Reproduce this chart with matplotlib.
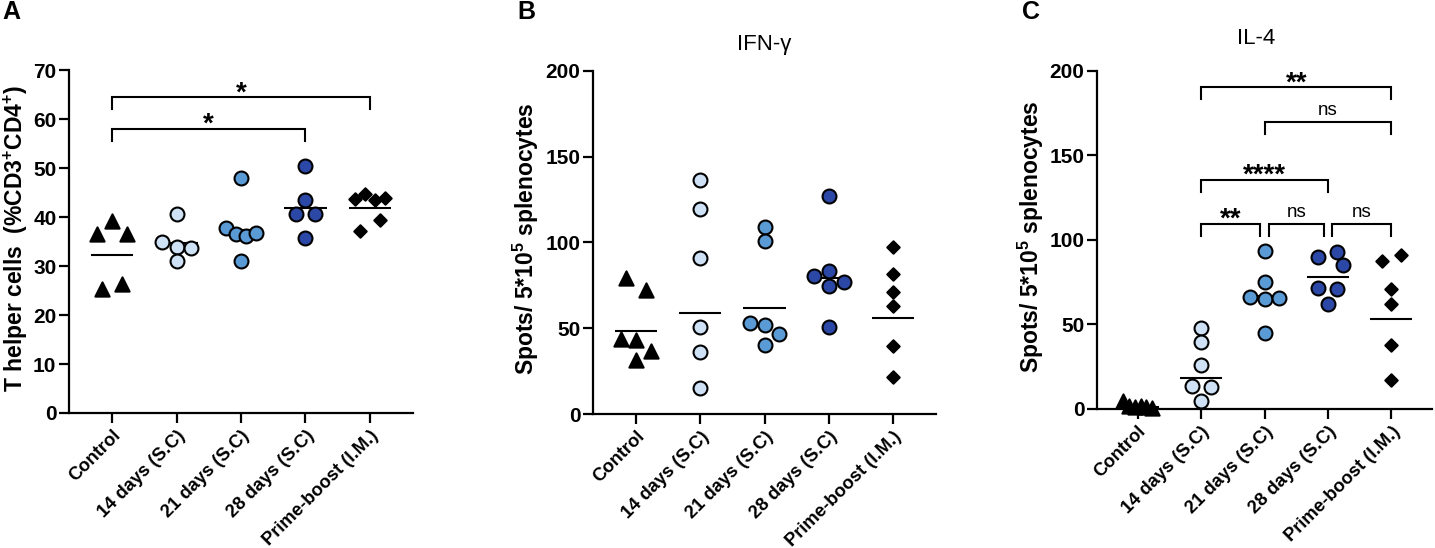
import numpy as np
import matplotlib
matplotlib.use('Agg')
import matplotlib.pyplot as plt

plt.rcParams['font.family'] = ['Liberation Sans', 'DejaVu Sans']
plt.rcParams['mathtext.fontset'] = 'custom'
plt.rcParams['mathtext.rm'] = 'Liberation Sans'
plt.rcParams['mathtext.bf'] = 'Liberation Sans:bold'

groups = ['Control', '14 days (S.C)', '21 days (S.C)', '28 days (S.C)', 'Prime-boost (I.M.)']

# A - T helper cells (%CD3+CD4+)
th_control = [36.6, 39.1, 36.6, 25.3, 26.3]
th_14d = [40.6, 35.0, 33.9, 33.6, 31.1]
th_21d = [47.9, 37.7, 36.5, 36.2, 36.7, 31.1]
th_28d = [50.5, 40.7, 43.4, 40.6, 35.8]
th_pb = [43.6, 44.7, 43.4, 43.8, 37.2, 39.4]

# B - IFN-gamma spots
ifn_control = [79.4, 72.2, 43.5, 43.1, 36.9, 31.5]
ifn_14d = [136.3, 119.2, 91.1, 50.5, 35.9, 15.3]
ifn_21d = [109.1, 101.0, 52.8, 51.7, 46.6, 40.2]
ifn_28d = [127.0, 80.6, 83.3, 77.1, 74.8, 50.9]
ifn_pb = [97.5, 81.6, 71.3, 62.9, 39.8, 21.7]

# C - IL-4 spots
il4_control = [4.5, 2.0, 1.0, 1.5, 1.0, 0.5]
il4_14d = [47.7, 39.8, 26.0, 13.6, 13.2, 4.7]
il4_21d = [93.6, 74.9, 66.4, 64.8, 65.4, 45.1]
il4_28d = [89.7, 93.0, 85.1, 71.3, 70.7, 62.1]
il4_pb = [87.7, 91.0, 70.7, 62.1, 37.8, 17.1]

# comparisons: (group1, group2, bracket height, label)
th_comparisons = [(0, 3, 57.9, '*'), (0, 4, 64.4, '*')]
il4_comparisons = [(1, 4, 190.1, '**'), (2, 4, 169.9, 'ns'), (1, 3, 135.4, '****'),
                   (1, 2, 109.4, '**'), (2, 3, 109.4, 'ns'), (3, 4, 109.4, 'ns')]

markers = ['^', 'o', 'o', 'o', 'D']
colors = ['black', '#cfe2f5', '#5b9bd5', '#2c48a6']
colors.append('black')
sizes = [105, 100, 100, 100, 40]

W, H = 1435, 548


def geo_mean(v):
    return float(np.exp(np.mean(np.log(v))))


def swarm(values, px_x, px_y, diam=13.0):
    """simple column scatter layout (in pixel space)"""
    v = np.asarray(values, float)
    offs = np.zeros(len(v))
    order = list(np.argsort(-v, kind='stable'))
    placed = []
    while order:
        top = order[0]
        row = sorted(i for i in order if (v[top] - v[i]) * px_y < diam)
        order = [i for i in order if i not in row]
        n = len(row)
        if n == 1:
            best, best_d = 0.0, -1.0
            for c in [0.0, -0.23, 0.23, -0.115, 0.115]:
                d = min([np.hypot((c - x) * px_x, (v[row[0]] - y) * px_y) for x, y in placed],
                        default=np.inf)
                if d >= diam:
                    best = c
                    break
                if d > best_d:
                    best, best_d = c, d
            offs[row[0]] = best
        else:
            sp = min(0.46 / (n - 1), 0.3)
            for k, i in enumerate(row):
                offs[i] = (k - (n - 1) / 2) * sp
        for i in row:
            placed.append((offs[i], v[i]))
    return offs


def make_axes(fig, left, right, top, bottom):
    return fig.add_axes([left / W, 1 - bottom / H, (right - left) / W, (bottom - top) / H])


def draw_panel(ax, data, ylim, yticks, xlim, ylabel, label_x):
    ax.set_xlim(*xlim)
    ax.set_ylim(*ylim)
    bb = ax.get_position()
    px_x = bb.width * W / (xlim[1] - xlim[0])
    px_y = bb.height * H / (ylim[1] - ylim[0])
    for i, vals in enumerate(data):
        offs = swarm(vals, px_x, px_y)
        ax.hlines(geo_mean(vals), i - 0.33, i + 0.33, color='black', lw=1.5, zorder=2)
        ax.scatter(i + offs, vals, s=sizes[i], marker=markers[i], facecolor=colors[i],
                   edgecolor='black', linewidth=1.5, zorder=3, clip_on=False)
    for side in ['top', 'right']:
        ax.spines[side].set_visible(False)
    for side in ['left', 'bottom']:
        ax.spines[side].set_linewidth(1.6)
    ax.tick_params(width=1.6, length=7)
    ax.tick_params(axis='y', pad=2)
    ax.tick_params(axis='x', pad=3)
    ax.set_yticks(yticks, labels=[str(t) for t in yticks], fontsize=15, fontweight='bold')
    ax.set_xticks(range(len(groups)), labels=groups, rotation=45, ha='right',
                  rotation_mode='anchor', fontsize=13.2, fontweight='bold')
    ax.text(label_x, 0.51, ylabel, transform=ax.transAxes, rotation=90, ha='center',
            va='center', fontsize=16.5, fontweight='bold')
    return px_y


def draw_brackets(ax, comparisons, px_y, leg_px=12):
    leg = leg_px / px_y
    ends = {}
    for g1, g2, y, txt in comparisons:
        ends.setdefault(y, []).extend([g1, g2])
    for g1, g2, y, txt in comparisons:
        x1, x2 = float(g1), float(g2)
        row = ends[y]
        if row.count(g1) > 1:
            x1 += 0.07
        if row.count(g2) > 1:
            x2 -= 0.07
        ax.plot([x1, x1, x2, x2], [y - leg, y, y, y - leg], color='black', lw=1.5,
                clip_on=False, solid_joinstyle='miter')
        if txt == 'ns':
            ax.annotate(txt, ((x1 + x2) / 2, y), xytext=(0, 5), textcoords='offset points',
                        ha='center', va='baseline', fontsize=13.5)
        else:
            ax.annotate(txt, ((x1 + x2) / 2, y), xytext=(0, -2), textcoords='offset points',
                        ha='center', va='baseline', fontsize=20, fontweight='bold')


fig = plt.figure(figsize=(W / 100, H / 100), dpi=100)

axA = make_axes(fig, 69, 413, 70, 413)
pyA = draw_panel(axA, [th_control, th_14d, th_21d, th_28d, th_pb], (0, 70), list(range(0, 71, 10)),
                 (-0.667, 4.667), r'T helper cells  (%CD3$^\mathbf{+}$CD4$^\mathbf{+}$)', -0.155)
draw_brackets(axA, th_comparisons, pyA)

axB = make_axes(fig, 593, 936, 70.7, 414)
draw_panel(axB, [ifn_control, ifn_14d, ifn_21d, ifn_28d, ifn_pb], (0, 200), [0, 50, 100, 150, 200],
           (-0.667, 4.667), r'Spots/ 5*10$^\mathbf{5}$ splenocytes', -0.195)
axB.set_title('IFN-γ', fontsize=16, pad=15)

axC = make_axes(fig, 1097, 1432, 70.7, 409)
pyC = draw_panel(axC, [il4_control, il4_14d, il4_21d, il4_28d, il4_pb], (0, 200), [0, 50, 100, 150, 200],
                 (-0.64, 4.64), r'Spots/ 5*10$^\mathbf{5}$ splenocytes', -0.197)
axC.set_title('IL-4', fontsize=16, pad=19, x=0.475)
draw_brackets(axC, il4_comparisons, pyC)

for x, letter in [(2, 'A'), (517, 'B'), (1022, 'C')]:
    fig.text(x / W, 1.0, letter, fontsize=18, fontweight='bold', va='top', ha='left')

fig.savefig('out.png', dpi=100)
